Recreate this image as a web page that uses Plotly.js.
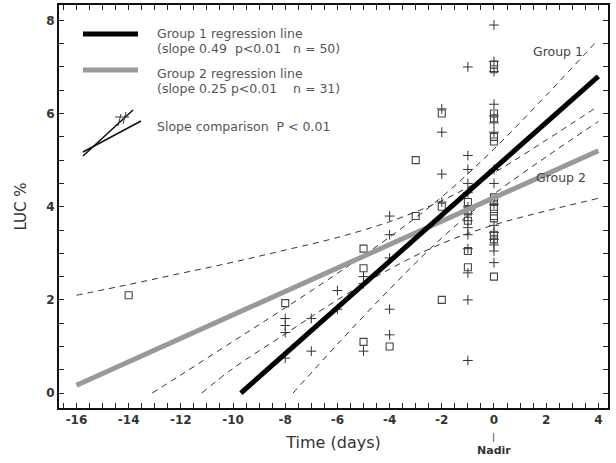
<!DOCTYPE html>
<html>
<head>
<meta charset="utf-8">
<script src="https://cdn.plot.ly/plotly-3.0.1.min.js"></script>
<style>html,body{margin:0;padding:0;background:#fff;}#chart{width:616px;height:463px;}</style>
</head>
<body>
<div id="chart"></div>
<script>
// ---- data ----
const g1X = [-8,-8,-8,-8,-7,-7,-6,-6,-5,-5,-5,-4,-4,-4,-4,-4,-2,-2,-2,-2,
  -1,-1,-1,-1,-1,-1,-1,-1,-1,-1,-1,-1,-1,-1,
  0,0,0,0,0,0,0,0,0,0,0,0,0,0,0,0];
const g1Y = [1.6,1.45,1.3,0.75,1.6,0.9,2.2,1.8,2.5,2.35,0.9,3.8,3.4,2.9,1.8,1.25,6.1,5.6,4.7,4.1,
  7.0,5.1,4.8,4.5,4.3,4.0,3.85,3.7,3.55,3.4,3.1,2.58,2.0,0.7,
  7.9,7.12,6.9,6.2,5.95,5.8,5.6,4.8,4.5,4.05,3.6,3.45,3.3,3.18,3.05,2.8];
const g2X = [-14,-8,-5,-5,-5,-4,-3,-3,-2,-2,-2,-1,-1,-1,-1,-1,
  0,0,0,0,0,0,0,0,0,0,0,0,0,0,0];
const g2Y = [2.1,1.93,3.1,2.68,1.1,1.0,5.0,3.8,6.0,4.0,2.0,4.1,3.9,3.7,3.05,2.7,
  7.05,6.95,6.0,5.9,5.5,5.4,4.2,4.1,4.0,3.95,3.8,3.75,3.4,3.3,2.5];

const g1LineX = [-9.7, 4.0];
const g1LineY = [0.0, 6.8];
const g2LineX = [-16.0, 4.0];
const g2LineY = [0.17, 5.2];

const g1UpperX = [-13.1,-12,-10,-8,-6,-4,-2,0,2,4];
const g1Upper  = [0.0,0.39,1.11,1.83,2.57,3.35,4.21,5.24,6.39,7.59];
const g1LowerX = [-7.7,-6,-4,-2,0,2,4];
const g1Lower  = [0.0,1.05,2.23,3.33,4.27,5.07,5.83];
const g2UpperX = [-16,-14,-12,-10,-8,-6,-4,-2,0,2,4];
const g2Upper  = [2.10,2.33,2.57,2.81,3.07,3.34,3.68,4.13,4.73,5.43,6.16];
const g2LowerX = [-11.2,-10,-8,-6,-4,-2,0,2,4];
const g2Lower  = [0.0,0.53,1.27,2.0,2.66,3.21,3.61,3.91,4.18];

const xTickVals = [-16,-14,-12,-10,-8,-6,-4,-2,0,2,4];
const xTickText = ["-16","-14","-12","-10","-8","-6","-4","-2","0","2","4"];
const yTickVals = [0,2,4,6,8];
const yTickText = ["0","2","4","6","8"];

// all tick positions (every half unit); labelled only at the tick-label values
function allTicks(lo, hi, vals, texts) {
  const tv = [], tt = [];
  for (let k = Math.ceil(lo * 2); k <= Math.floor(hi * 2); k++) {
    const v = k / 2;
    tv.push(v);
    const i = vals.indexOf(v);
    tt.push(i >= 0 ? texts[i] : '');
  }
  return {tv, tt};
}
const xT = allTicks(-16.6, 4.3, xTickVals, xTickText);
const yT = allTicks(-0.3, 8.3, yTickVals, yTickText);

// ---- layout helpers (pixel -> paper) ----
const L = 59, T = 5, W = 549, H = 403;
const pxX = p => (p - L) / W;
const pxY = p => 1 - (p - T) / H;

const dashStyle = {color:'#333', width:1, dash:'6px,5px', shape:'spline'};
const traces = [
  {x:g1UpperX, y:g1Upper, mode:'lines', line:dashStyle, hoverinfo:'skip'},
  {x:g1LowerX, y:g1Lower, mode:'lines', line:dashStyle, hoverinfo:'skip'},
  {x:g2UpperX, y:g2Upper, mode:'lines', line:dashStyle, hoverinfo:'skip'},
  {x:g2LowerX, y:g2Lower, mode:'lines', line:dashStyle, hoverinfo:'skip'},
  {x:g1X, y:g1Y, mode:'markers', marker:{symbol:'cross-thin', size:7, color:'#333', line:{color:'#333', width:1}}},
  {x:g2X, y:g2Y, mode:'markers', marker:{symbol:'square-open', size:7, color:'#444', line:{color:'#444', width:1.1}}},
  {x:g2LineX, y:g2LineY, mode:'lines', line:{color:'#999', width:5}},
  {x:g1LineX, y:g1LineY, mode:'lines', line:{color:'#000', width:5}}
];

const font = "DejaVu Sans, Verdana, sans-serif";
const txtCol = '#555';
function ann(text, px, py, opts) {
  return Object.assign({text:text, xref:'paper', yref:'paper', x:pxX(px), y:pxY(py),
    xanchor:'left', yanchor:'middle', showarrow:false, font:{family:font, size:12.5, color:txtCol}}, opts||{});
}
function seg(x0,y0,x1,y1,color,width){
  return {type:'line', xref:'paper', yref:'paper', x0:pxX(x0), y0:pxY(y0), x1:pxX(x1), y1:pxY(y1),
    line:{color:color, width:width}};
}
const nb = s => s.replace(/ /g, '\u00a0');

const axisCommon = {
  ticks:'inside', ticklen:5, tickwidth:1, tickcolor:'#222',
  showline:true, linewidth:2, linecolor:'#111', mirror:'ticks',
  showgrid:false, zeroline:false,
  tickfont:{family:font, size:12, color:'#333', weight:700}
};

const layout = {
  width:616, height:463,
  margin:{l:L, r:616-L-W, t:T, b:463-T-H},
  paper_bgcolor:'#fff', plot_bgcolor:'#fff',
  showlegend:false,
  xaxis:Object.assign({}, axisCommon, {range:[-16.67,4.37], tickmode:'array', tickvals:xT.tv, ticktext:xT.tt,
    title:{text:'Time (days)', font:{family:font, size:16, color:'#333'}, standoff:10}}),
  yaxis:Object.assign({}, axisCommon, {range:[-0.32,8.33], tickmode:'array', tickvals:yT.tv, ticktext:yT.tt,
    title:{text:'LUC %', font:{family:font, size:15, color:'#333'}, standoff:16}}),
  shapes:[
    seg(83,34,138,34,'#000',5),
    seg(83,70,138,70,'#999',5),
    seg(83,156,133,110,'#111',1.6),
    seg(83,152,141,121,'#111',1.6),
    seg(115,117,129,117,'#333',1),
    seg(118,126,121,114,'#333',1),
    seg(123,124,126,112,'#333',1)
  ],
  annotations:[
    ann('Group 1 regression line',155,33),
    ann(nb('(slope 0.49  p<0.01   n = 50)'),155,48),
    ann('Group 2 regression line',155,74),
    ann(nb('(slope 0.25 p<0.01    n = 31)'),155,89),
    ann(nb('Slope comparison  P < 0.01'),155,127),
    {text:'Group 1', xref:'paper', yref:'paper', x:pxX(558), y:pxY(52), xanchor:'center', yanchor:'middle',
      showarrow:false, font:{family:font, size:12.5, color:'#444'}},
    {text:'Group 2', xref:'paper', yref:'paper', x:pxX(561), y:pxY(178), xanchor:'center', yanchor:'middle',
      showarrow:false, font:{family:font, size:12.5, color:'#444'}},
    {text:'|', xref:'x', yref:'paper', x:0, y:pxY(437), xanchor:'center', yanchor:'middle',
      showarrow:false, font:{family:font, size:9, color:'#333'}},
    {text:'Nadir', xref:'x', yref:'paper', x:0, y:pxY(450), xanchor:'center', yanchor:'middle',
      showarrow:false, font:{family:font, size:11, color:'#333', weight:700}}
  ]
};

Plotly.newPlot('chart', traces, layout, {staticPlot:true, displayModeBar:false});
</script>
</body>
</html>
